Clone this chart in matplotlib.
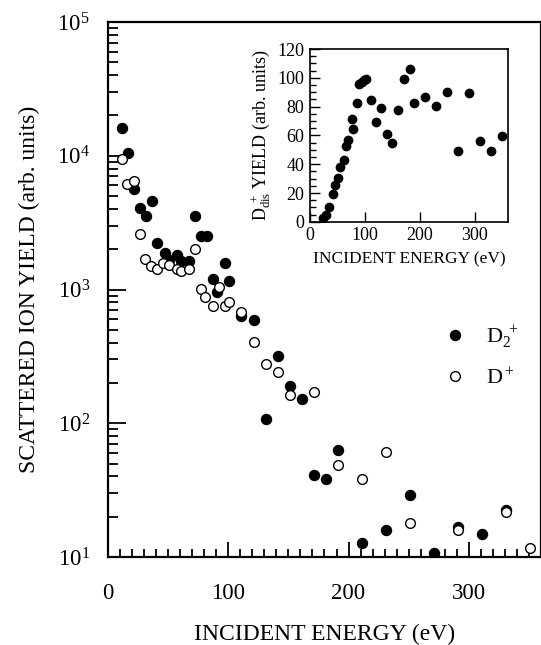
import numpy as np
import matplotlib
matplotlib.use("Agg")
from matplotlib import pyplot as plt
from matplotlib.ticker import MultipleLocator, LogLocator, NullFormatter

plt.rcParams['font.family'] = ['Liberation Serif', 'DejaVu Serif']
plt.rcParams['mathtext.fontset'] = 'custom'
plt.rcParams['mathtext.rm'] = 'Liberation Serif'
plt.rcParams['mathtext.it'] = 'Liberation Serif:italic'

# D2+ scattered yield (filled circles)
e_d2 = [12, 17, 22, 27, 32, 37, 41, 47, 51, 57, 61, 67, 72, 77, 82, 87, 91, 97, 101,
        111, 121, 131, 141, 151, 161, 171, 181, 191, 211, 231, 251, 271, 291, 311, 331]
y_d2 = [16200, 10500, 5600, 4050, 3550, 4600, 2240, 1860, 1670, 1820, 1620, 1620, 3550,
        2520, 2500, 1200, 950, 1580, 1150, 630, 590, 107, 320, 190, 152, 41, 38, 63,
        12.8, 15.8, 29, 10.7, 16.7, 14.8, 22.5]

# D+ scattered yield (open circles)
e_d = [12, 16, 22, 27, 31, 36, 41, 46, 51, 57, 61, 67, 72, 77, 81, 87, 92, 97, 101,
       111, 121, 131, 141, 151, 171, 191, 211, 231, 251, 291, 331, 351]
y_d = [9400, 6200, 6500, 2600, 1680, 1500, 1420, 1580, 1530, 1420, 1370, 1420, 2000,
       1010, 880, 755, 1050, 755, 810, 680, 405, 276, 243, 164, 170, 48.5, 38, 61,
       18, 15.8, 21.8, 11.7]

# inset: dissociated D+ yield
e_dis = [23, 29, 35, 41, 45, 51, 55, 61, 65, 70, 76, 79, 86, 90, 94, 98, 101,
         111, 120, 130, 140, 150, 160, 171, 181, 189, 210, 230, 250, 270, 290, 309, 329, 349]
y_dis = [2.6, 4.9, 10.6, 19.4, 25.7, 30.7, 38.4, 43, 53, 56.8, 71.2, 64.5, 82.6, 95.8,
         97, 98.6, 99.5, 84.7, 69.4, 79.4, 60.8, 54.5, 77.5, 99.5, 105.8, 82.6, 86.5,
         80.3, 90, 49.4, 89.3, 55.9, 49.4, 59.6]

fig = plt.figure(figsize=(5.41, 6.45), dpi=100)
ax = fig.add_axes([0.1996, 0.1364, 0.8004, 0.8295])

ax.semilogy(e_d2, y_d2, 'o', color='black', ms=7.2, label=r'D$_2^{\ +}$')
ax.semilogy(e_d, y_d, 'o', mfc='white', mec='black', mew=1.0, ms=7.0, label=r'D$^+$')

ax.set_xlim(0, 360)
ax.set_ylim(10, 1e5)
ax.xaxis.set_major_locator(MultipleLocator(100))
ax.xaxis.set_minor_locator(MultipleLocator(10))
ax.yaxis.set_major_locator(LogLocator(base=10))
ax.yaxis.set_minor_locator(LogLocator(base=10, subs=np.arange(2, 10), numticks=50))
ax.yaxis.set_minor_formatter(NullFormatter())
ax.tick_params(which='both', direction='in', top=False, right=False, labelsize=16.5, width=1.3)
ax.tick_params(axis='x', which='major', length=11, pad=19)
ax.tick_params(axis='x', which='minor', length=6)
ax.tick_params(axis='y', which='major', length=13, pad=13)
ax.tick_params(axis='y', which='minor', length=7)
for s in ax.spines.values():
    s.set_linewidth(1.6)

ax.set_xlabel('INCIDENT ENERGY (eV)', fontsize=17, labelpad=14)
ax.set_ylabel('SCATTERED ION YIELD (arb. units)', fontsize=17, labelpad=12)

leg = ax.legend(loc='center left', bbox_to_anchor=(0.73, 0.375), frameon=False,
                fontsize=16, handletextpad=0.9, labelspacing=0.8, numpoints=1,
                handlelength=1.0)

# inset
ins = fig.add_axes([0.573, 0.656, 0.366, 0.268])
ins.plot(e_dis, y_dis, 'o', color='black', ms=6)
ins.set_xlim(0, 360)
ins.set_ylim(0, 120)
ins.xaxis.set_major_locator(MultipleLocator(100))
ins.yaxis.set_major_locator(MultipleLocator(20))
ins.yaxis.set_minor_locator(MultipleLocator(5))
ins.tick_params(which='both', direction='in', top=False, right=False, labelsize=13, width=1.0)
ins.tick_params(which='major', length=7, pad=4)
ins.tick_params(which='minor', length=4)
for s in ins.spines.values():
    s.set_linewidth(1.2)
ins.set_xlabel('INCIDENT ENERGY (eV)', fontsize=12.5, labelpad=5)
ins.set_ylabel(r'D$_{\rm dis}^{\ +}$ YIELD (arb. units)', fontsize=13, labelpad=3)

fig.savefig('out.png', dpi=100)
